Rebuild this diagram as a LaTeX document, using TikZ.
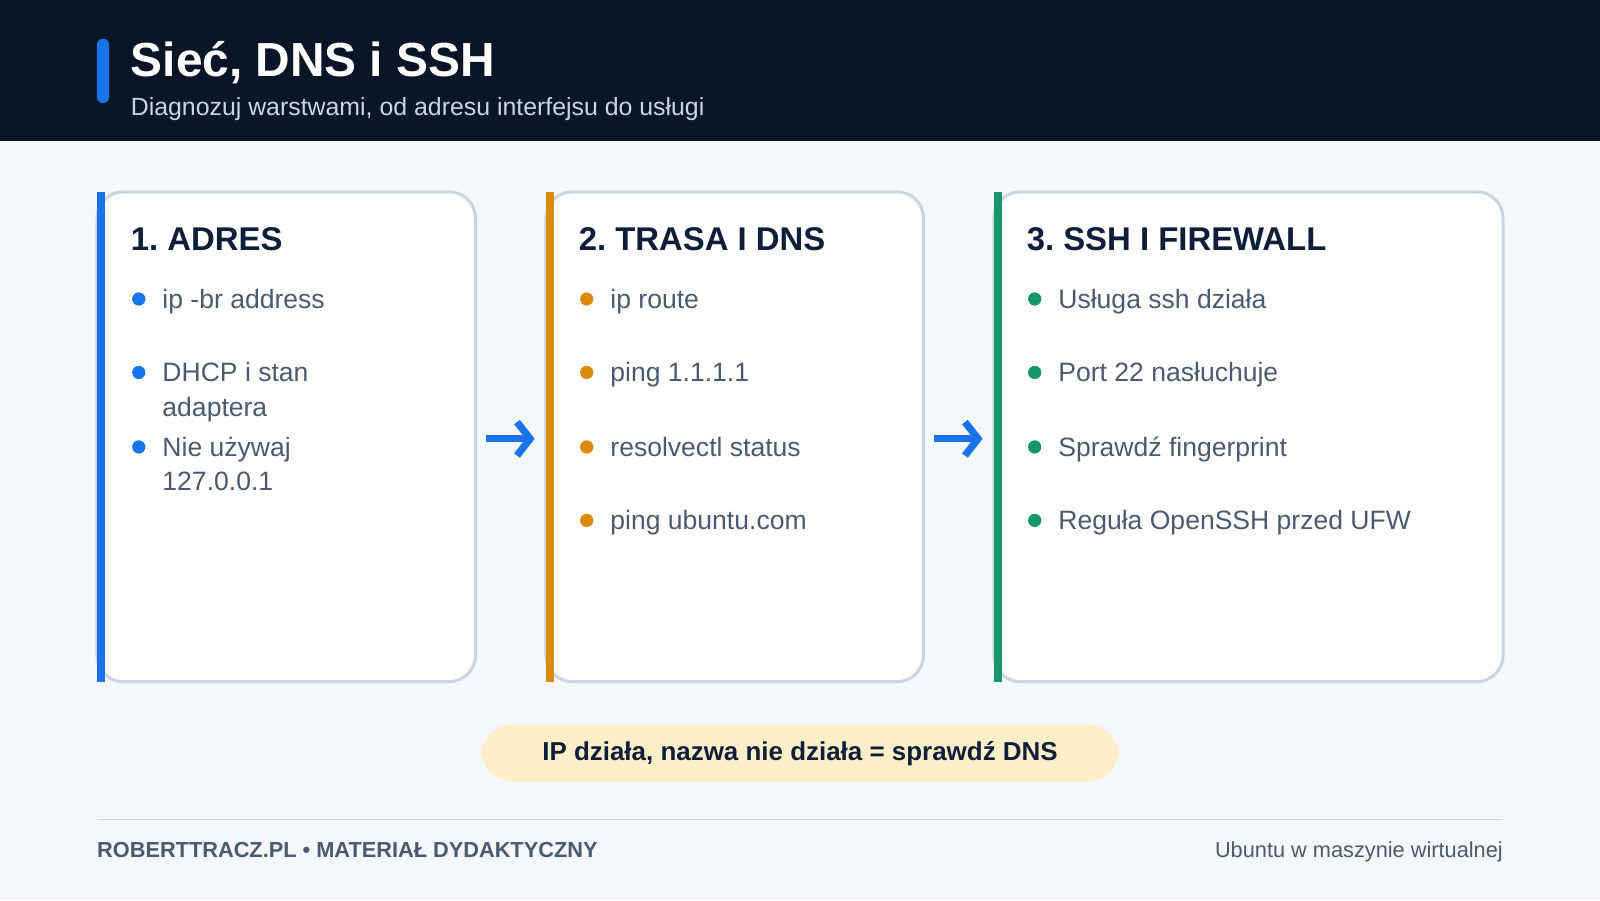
\documentclass[tikz,border=0pt]{standalone}
\usepackage{fontspec}
\setmainfont{Liberation Sans}
\usetikzlibrary{positioning,arrows.meta}
\definecolor{navy}{HTML}{0A1628}
\definecolor{pagebg}{HTML}{F4F7FB}
\definecolor{edge}{HTML}{CBD5E1}
\definecolor{ink}{HTML}{0F1F3A}
\definecolor{grey}{HTML}{4A5A70}
\definecolor{cblue}{HTML}{1A73E8}
\definecolor{corange}{HTML}{DB8A0C}
\definecolor{cgreen}{HTML}{17966A}
\definecolor{pill}{HTML}{FDEFC8}
\newcommand{\fs}[1]{\fontsize{#1}{#1}\selectfont}
\frenchspacing
\tikzset{
  card/.style={draw=edge, line width=2.5pt, fill=white, rounded corners=22},
  head/.style={anchor=base west, text=ink, font=\fs{27.5}\bfseries, inner sep=0pt},
  item/.style={anchor=north west, text=grey, font=\fontsize{22.2}{29}\selectfont, inner sep=0pt, align=left},
  flow/.style={-{Straight Barb[length=11pt,width=28pt,line width=6pt]}, cblue, line width=5.5pt}
}
\begin{document}
\begin{tikzpicture}[x=0.03cm, y=-0.03cm]
\fill[pagebg] (0,0) rectangle (1568,882);
\fill[navy] (0,0) rectangle (1568,138);
\fill[cblue, rounded corners=5] (95,38) rectangle (107,101);
\node[anchor=base west, text=white, font=\fs{40}\bfseries, inner sep=0pt] (title) at (128,75) {Sieć, DNS i SSH};
\node[anchor=base west, text=edge, font=\fs{20.8}, inner sep=0pt] (sub) at (128,113) {Diagnozuj warstwami, od adresu interfejsu do usługi};
% cards
\foreach \xa/\xb/\col/\nm in {95/466/cblue/c1, 535/905/corange/c2, 974/1473/cgreen/c3}{
  \draw[card] (\xa,188) rectangle (\xb,668);
  \fill[\col] (\xa,188) rectangle (\xa+8,668);
  \coordinate (\nm) at (\xa,188);
}
\node[head] (h1) at (128,245) {1. ADRES};
\node[head] (h2) at (567,245) {2. TRASA I DNS};
\node[head] (h3) at (1006,245) {3. SSH I FIREWALL};
\foreach \y/\t [count=\i] in {293/{ip -br address}, 365/{DHCP i stan\\adaptera}, 438/{Nie używaj\\127.0.0.1}}{
  \fill[cblue] (136,\y) circle (6.5);
  \node[item] (a\i) at (159,\y-10) {\t};
}
\foreach \y/\t [count=\i] in {293/{ip route}, 365/{ping 1.1.1.1}, 438/{resolvectl status}, 510/{ping ubuntu.com}}{
  \fill[corange] (575,\y) circle (6.5);
  \node[item] (b\i) at (598,\y-10) {\t};
}
\foreach \y/\t [count=\i] in {293/{Usługa ssh działa}, 365/{Port 22 nasłuchuje}, 438/{Sprawdź fingerprint}, 510/{Reguła OpenSSH przed UFW}}{
  \fill[cgreen] (1014,\y) circle (6.5);
  \node[item] (g\i) at (1037,\y-10) {\t};
}
\coordinate (p1) at (476,430); \coordinate (q1) at (524,430);
\coordinate (p2) at (915,430); \coordinate (q2) at (963,430);
\draw[flow] (p1) -- (q1);
\draw[flow] (p2) -- (q2);
% note
\fill[pill, rounded corners=28] (471,710) rectangle (1097,766);
\node[text=ink, font=\fs{21.7}\bfseries] (note) at (784,739) {IP działa, nazwa nie działa = sprawdź DNS};
\draw[edge, line width=1.5pt] (95,803) -- (1473,803);
\node[anchor=base west, text=grey, font=\fs{18.2}\bfseries, inner sep=0pt] (foot) at (95,840) {ROBERTTRACZ.PL • MATERIAŁ DYDAKTYCZNY};
\node[anchor=base east, text=grey, font=\fs{18.2}, inner sep=0pt] (vm) at (1473,840) {Ubuntu w maszynie wirtualnej};
\end{tikzpicture}
\end{document}
